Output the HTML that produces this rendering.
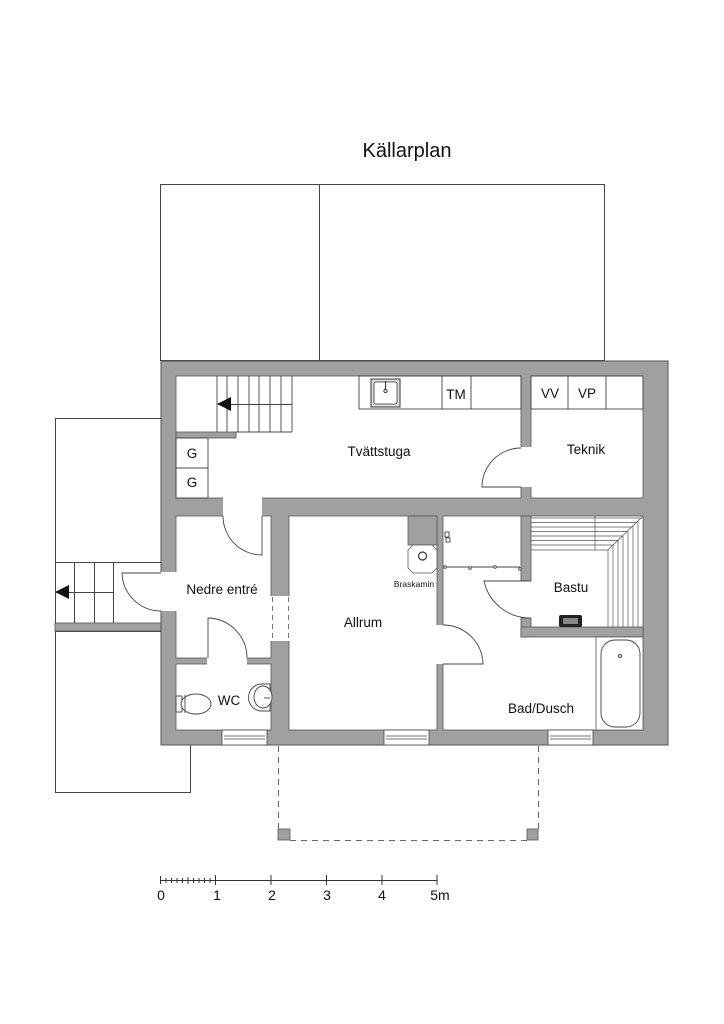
<!DOCTYPE html>
<html><head><meta charset="utf-8"><style>
html,body{margin:0;padding:0;background:#fff;}
svg{display:block;}
text{font-family:"Liberation Sans","DejaVu Sans",sans-serif;fill:#111;}
</style></head><body>
<svg width="724" height="1024" viewBox="0 0 724 1024" xmlns="http://www.w3.org/2000/svg">
<rect width="724" height="1024" fill="#fff"/>
<text x="407" y="157" font-size="20" text-anchor="middle">Källarplan</text>

<g fill="none" stroke="#444" stroke-width="1">
<rect x="160.5" y="184.5" width="159" height="176"/>
<rect x="319.5" y="184.5" width="285" height="176"/>
<rect x="55.5" y="418.5" width="106" height="205"/>
<rect x="55.5" y="631.5" width="135" height="161"/>
</g>
<!-- outside stair -->
<rect x="55" y="623" width="106" height="8" fill="#a0a0a0" stroke="#555" stroke-width="0.8"/>
<g stroke="#444" stroke-width="1">
<line x1="55" y1="562.5" x2="161" y2="562.5"/>
<line x1="74.5" y1="562" x2="74.5" y2="623"/>
<line x1="94.5" y1="562" x2="94.5" y2="623"/>
<line x1="113.5" y1="562" x2="113.5" y2="623"/>
<line x1="55" y1="592.5" x2="113" y2="592.5"/>
</g>
<polygon points="55,592 69,585 69,599" fill="#111"/>

<!-- walls -->
<rect x="161" y="361" width="507" height="384" fill="#a0a0a0" stroke="#555" stroke-width="1"/>
<g fill="#fff" stroke="#555" stroke-width="0.8">
<rect x="176" y="376" width="345" height="122"/>
<rect x="531" y="376" width="112" height="122"/>
<rect x="176" y="516" width="95" height="142"/>
<rect x="176" y="664" width="95" height="66"/>
<rect x="289" y="516" width="148" height="214"/>
<rect x="443" y="516" width="200" height="214"/>
</g>
<g fill="#fff">
<rect x="520" y="447" width="12" height="40"/>
<rect x="223" y="497" width="39" height="20"/>
<rect x="270" y="596" width="20" height="45"/>
<rect x="207" y="657" width="40" height="8"/>
<rect x="436" y="625" width="8" height="39"/>
<rect x="160" y="572" width="17" height="39"/>
</g>
<!-- gray pieces -->
<g fill="#a0a0a0" stroke="#555" stroke-width="0.8">
<rect x="176" y="432" width="60" height="6"/>
<rect x="408" y="516" width="29" height="29"/>
<rect x="521" y="516" width="10" height="65"/>
<rect x="521" y="618" width="10" height="19"/>
<rect x="521" y="627" width="122" height="10"/>
</g>
<rect x="521.4" y="627.4" width="9" height="9" fill="#a0a0a0"/>
<g stroke="#777" stroke-dasharray="5,4" stroke-width="1">
<line x1="272.5" y1="597" x2="272.5" y2="641"/>
<line x1="288.5" y1="597" x2="288.5" y2="641"/>
</g>

<!-- windows -->
<g fill="#fff" stroke="#444" stroke-width="0.8">
<rect x="222" y="730" width="45" height="15"/>
<rect x="384" y="730" width="45" height="15"/>
<rect x="548" y="730" width="45" height="15"/>
</g>
<g stroke="#444" stroke-width="0.8">
<line x1="224" y1="736" x2="265" y2="736"/><line x1="224" y1="739" x2="265" y2="739"/>
<line x1="386" y1="736" x2="427" y2="736"/><line x1="386" y1="739" x2="427" y2="739"/>
<line x1="550" y1="736" x2="591" y2="736"/><line x1="550" y1="739" x2="591" y2="739"/>
</g>

<!-- inner stair -->
<g stroke="#444" stroke-width="0.9">
<line x1="217" y1="376" x2="217" y2="432"/><line x1="227" y1="376" x2="227" y2="432"/>
<line x1="238" y1="376" x2="238" y2="432"/><line x1="249" y1="376" x2="249" y2="432"/>
<line x1="259" y1="376" x2="259" y2="432"/><line x1="270" y1="376" x2="270" y2="432"/>
<line x1="281" y1="376" x2="281" y2="432"/><line x1="292" y1="376" x2="292" y2="432"/>
<line x1="236" y1="432" x2="292" y2="432"/>
<line x1="218" y1="404.5" x2="292" y2="404.5"/>
</g>
<polygon points="217,404 231,397 231,411" fill="#111"/>

<!-- G boxes -->
<g fill="none" stroke="#444" stroke-width="0.9">
<rect x="176" y="438" width="32" height="30"/><rect x="176" y="468" width="32" height="30"/>
<!-- counter -->
<rect x="359" y="376" width="162" height="33"/>
<line x1="442" y1="376" x2="442" y2="409"/><line x1="471" y1="376" x2="471" y2="409"/>
<rect x="531" y="376" width="112" height="33"/>
<line x1="568" y1="376" x2="568" y2="409"/><line x1="606" y1="376" x2="606" y2="409"/>
</g>
<rect x="371" y="379" width="29" height="28" fill="#ddd" stroke="#333" stroke-width="1"/>
<rect x="374" y="382" width="23" height="22" rx="2" fill="#fff" stroke="#333" stroke-width="0.8"/>
<circle cx="385.5" cy="391" r="1.6" fill="none" stroke="#333"/>
<line x1="385.5" y1="381" x2="385.5" y2="389" stroke="#333"/>

<!-- doors -->
<g fill="none" stroke="#444" stroke-width="0.9">
<path d="M521 487 L482 487 A39 39 0 0 1 521 448"/>
<path d="M262 516 L262 555 A39 39 0 0 1 223 516"/>
<path d="M161 573 L122 573 A39 39 0 0 0 161 611"/>
<path d="M208 658 L208 618 A40 40 0 0 1 247 658"/>
<path d="M443 664 L483 664 A40 40 0 0 0 443 625"/>
<path d="M531 581 L484 581 A47 47 0 0 0 531 618"/>
</g>

<!-- Braskamin -->
<polygon points="413,545 432,545 437,550 437,568 432,573 413,573 408,568 408,550" fill="#fff" stroke="#555" stroke-width="0.8"/>
<circle cx="422.5" cy="556" r="4" fill="none" stroke="#333" stroke-width="1.2"/>
<text x="414" y="587" font-size="8.5" text-anchor="middle" fill="#444">Braskamin</text>

<!-- shower -->
<g stroke="#444" stroke-width="0.9" fill="#fff">
<line x1="445" y1="567" x2="520" y2="567"/>
<circle cx="445" cy="567" r="1.3"/><circle cx="470" cy="568" r="1.3"/><circle cx="495" cy="567" r="1.3"/><circle cx="520" cy="569" r="1.3"/>
<rect x="445" y="532" width="4" height="5"/><rect x="446" y="538" width="4" height="4"/>
</g>

<!-- bastu bench -->
<g stroke="#555" stroke-width="0.7">
<line x1="531" y1="518" x2="641" y2="518"/><line x1="531" y1="522.5" x2="637" y2="522.5"/>
<line x1="531" y1="527" x2="632" y2="527"/><line x1="531" y1="531.5" x2="628" y2="531.5"/>
<line x1="531" y1="536" x2="623" y2="536"/><line x1="531" y1="540.5" x2="619" y2="540.5"/>
<line x1="531" y1="545" x2="614" y2="545"/><line x1="531" y1="550" x2="608" y2="550"/>
<line x1="595" y1="516" x2="595" y2="550"/>
<line x1="608" y1="550" x2="643" y2="516"/>
<line x1="608" y1="550" x2="608" y2="627"/><line x1="613" y1="545" x2="613" y2="627"/>
<line x1="618" y1="541" x2="618" y2="627"/><line x1="623" y1="536" x2="623" y2="627"/>
<line x1="628" y1="531" x2="628" y2="627"/><line x1="633" y1="526" x2="633" y2="627"/>
<line x1="638" y1="521" x2="638" y2="627"/>
</g>
<rect x="559" y="615" width="23" height="12" rx="2" fill="#222"/>
<rect x="563" y="618" width="15" height="6" fill="#888"/>

<!-- bath -->
<rect x="596" y="637" width="47" height="93" fill="#fff" stroke="#555" stroke-width="0.8"/>
<rect x="601" y="640" width="39" height="87" rx="14" fill="#fff" stroke="#444" stroke-width="0.9"/>
<circle cx="620" cy="656" r="1.5" fill="none" stroke="#444"/>

<!-- WC fixtures -->
<g fill="#fff" stroke="#444" stroke-width="0.9">
<rect x="176" y="696" width="6" height="16"/>
<ellipse cx="196" cy="704" rx="15" ry="10"/>
<line x1="185" y1="695" x2="185" y2="713"/>
<path d="M270 684 L262 684 A12 12 0 0 0 262 711 L270 711 Z"/>
<ellipse cx="263" cy="697" rx="9" ry="11"/>
<line x1="264" y1="698" x2="270" y2="698"/>
</g>

<!-- labels -->
<g font-size="13.5">
<text x="379" y="456" text-anchor="middle">Tvättstuga</text>
<text x="586" y="454" text-anchor="middle">Teknik</text>
<text x="456" y="399" text-anchor="middle">TM</text>
<text x="550" y="398" text-anchor="middle">VV</text>
<text x="587" y="398" text-anchor="middle">VP</text>
<text x="192" y="458" text-anchor="middle">G</text>
<text x="192" y="487" text-anchor="middle">G</text>
<text x="222" y="594" text-anchor="middle">Nedre entré</text>
<text x="363" y="627" text-anchor="middle">Allrum</text>
<text x="571" y="592" text-anchor="middle">Bastu</text>
<text x="541" y="713" text-anchor="middle">Bad/Dusch</text>
<text x="229" y="705" text-anchor="middle">WC</text>
</g>

<!-- porch dashed -->
<g stroke="#666" stroke-dasharray="6,5" stroke-width="1" fill="none">
<line x1="278.5" y1="746" x2="278.5" y2="829"/>
<line x1="538.5" y1="746" x2="538.5" y2="829"/>
<line x1="290" y1="840.5" x2="527" y2="840.5"/>
</g>
<rect x="278" y="829" width="12" height="11" fill="#a0a0a0" stroke="#555" stroke-width="0.8"/>
<rect x="527" y="829" width="11" height="11" fill="#a0a0a0" stroke="#555" stroke-width="0.8"/>

<!-- scale -->
<g stroke="#333" stroke-width="1">
<line x1="160" y1="880.5" x2="437" y2="880.5"/>
<line x1="160.5" y1="876" x2="160.5" y2="884"/>
<line x1="166" y1="878" x2="166" y2="883"/><line x1="171.5" y1="878" x2="171.5" y2="883"/>
<line x1="177" y1="878" x2="177" y2="883"/><line x1="182.5" y1="878" x2="182.5" y2="883"/>
<line x1="188" y1="877" x2="188" y2="884"/><line x1="193.5" y1="878" x2="193.5" y2="883"/>
<line x1="199" y1="878" x2="199" y2="883"/><line x1="204.5" y1="878" x2="204.5" y2="883"/>
<line x1="210" y1="878" x2="210" y2="883"/>
<line x1="215.5" y1="875" x2="215.5" y2="885"/><line x1="271" y1="875" x2="271" y2="885"/>
<line x1="326.5" y1="875" x2="326.5" y2="885"/><line x1="382" y1="875" x2="382" y2="885"/>
<line x1="437" y1="875" x2="437" y2="885"/>
</g>
<g font-size="14" text-anchor="middle">
<text x="161" y="900">0</text><text x="217" y="900">1</text><text x="272" y="900">2</text>
<text x="327" y="900">3</text><text x="382" y="900">4</text><text x="440" y="900">5m</text>
</g>
</svg>
</body></html>
